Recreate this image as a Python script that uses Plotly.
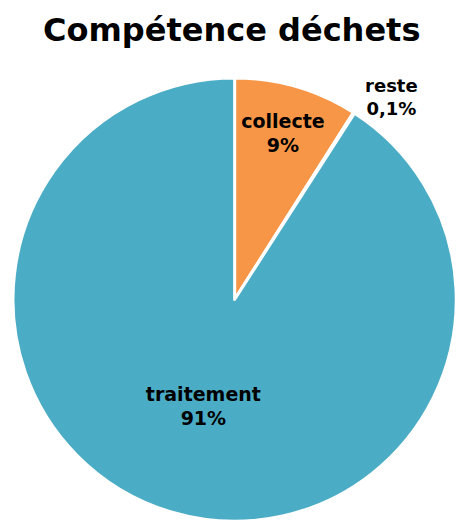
import plotly.graph_objects as go

labels = ["collecte", "reste", "traitement"]
values = [9.0, 0.1, 90.9]
pct_text = ["9%", "0,1%", "91%"]
colors = ["#F79646", "#4BACC6", "#4BACC6"]

FONT = "DejaVu Sans, sans-serif"

fig = go.Figure(go.Pie(
    labels=labels,
    values=values,
    text=pct_text,
    texttemplate="<b>%{label}<br>%{text}</b>",
    textposition=["inside", "outside", "inside"],
    insidetextorientation="horizontal",
    sort=False,
    direction="clockwise",
    rotation=0,
    marker=dict(colors=colors, line=dict(color="white", width=3)),
    textfont=dict(family=FONT, size=19, color="black"),
    outsidetextfont=dict(family=FONT, size=18, color="black"),
    domain=dict(x=[0, 448/471], y=[1/524, 456/524]),
    showlegend=False,
    hoverinfo="label+percent",
))

fig.update_layout(
    width=471, height=524,
    margin=dict(l=0, r=0, t=0, b=0),
    paper_bgcolor="white",
    separators=", ",
    title=dict(text="<b>Compétence déchets</b>", x=0.475, xanchor="center", y=0.958, yanchor="middle",
               font=dict(family=FONT, size=32, color="black")),
)

fig.write_html("out.html")
